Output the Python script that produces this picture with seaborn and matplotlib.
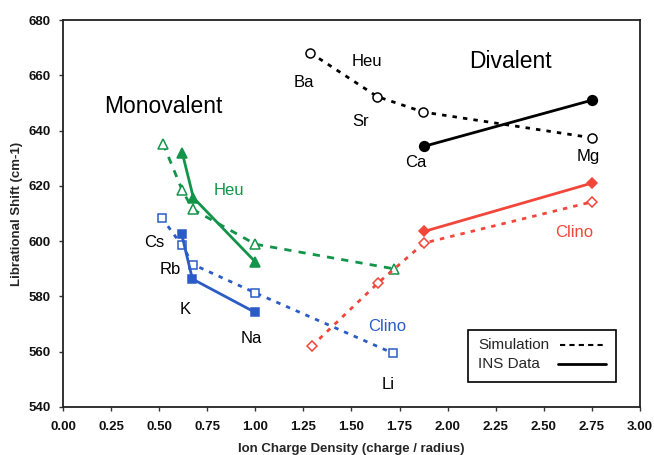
import numpy as np
import pandas as pd
import matplotlib
matplotlib.use("Agg")
import matplotlib.pyplot as plt
import seaborn as sns
from matplotlib.lines import Line2D
from matplotlib.patches import Rectangle

# Ion charge density (x) and librational shift (y)
heu_sim_x = [0.52, 0.62, 0.675, 1.00, 1.72]
heu_sim_y = [635.3, 618.4, 611.5, 598.9, 590.0]
heu_ins_x = [0.62, 0.678, 1.00]
heu_ins_y = [632.0, 615.7, 592.5]

clino_mono_sim_x = [0.513, 0.617, 0.678, 1.00, 1.718]
clino_mono_sim_y = [608.5, 598.6, 591.5, 581.3, 559.4]
clino_mono_ins_x = [0.617, 0.673, 1.00]
clino_mono_ins_y = [602.5, 586.3, 574.2]

clino_di_sim_x = [1.293, 1.64, 1.877, 2.75]
clino_di_sim_y = [562.0, 585.0, 599.3, 614.2]
clino_di_ins_x = [1.877, 2.75]
clino_di_ins_y = [603.5, 621.0]

heu_di_sim_x = [1.285, 1.634, 1.874, 2.75]
heu_di_sim_y = [668.2, 652.3, 646.7, 637.4]
heu_di_ins_x = [1.877, 2.75]
heu_di_ins_y = [634.3, 651.0]

# text labels: (text, x, y, color, size)
labels = [
    ("Monovalent", 0.52, 648.6, "black", 16.5),
    ("Divalent", 2.325, 664.9, "black", 16.5),
    ("Heu", 0.863, 618.5, "#13944a", 12),
    ("Heu", 1.579, 665.0, "black", 12),
    ("Ba", 1.25, 657.4, "black", 12),
    ("Sr", 1.548, 643.4, "black", 12),
    ("Ca", 1.832, 628.4, "black", 12),
    ("Mg", 2.73, 630.5, "black", 12),
    ("Cs", 0.473, 599.4, "black", 12),
    ("Rb", 0.56, 589.7, "black", 12),
    ("K", 0.634, 575.2, "black", 12),
    ("Na", 0.981, 564.9, "black", 12),
    ("Li", 1.692, 548.1, "black", 12),
    ("Clino", 1.686, 569.0, "#2b5cc6", 12),
    ("Clino", 2.657, 603.1, "#f2463a", 12),
]

green = "#13944a"
blue = "#2b5cc6"
red = "#f2463a"
black = "#000000"

sns.set_style("ticks")
plt.rcParams['font.family'] = ['Liberation Sans', 'DejaVu Sans']

fig, ax = plt.subplots(figsize=(6.54, 4.55), dpi=100)
fig.subplots_adjust(left=0.0963, right=0.9786, top=0.956, bottom=0.1055)

dotted = (0, (1.6, 2.2))
dashed = (0, (2.6, 2.6))


def draw(xs, ys, color, marker, ms, ls, filled):
    df = pd.DataFrame({"x": xs, "y": ys})
    sns.lineplot(data=df, x="x", y="y", ax=ax, color=color, linestyle=ls,
                 linewidth=2.0, marker=marker, markersize=ms,
                 markerfacecolor=color if filled else "white",
                 markeredgecolor=color, markeredgewidth=1.1,
                 sort=False, estimator=None)


# simulation (dashed / dotted) and INS data (solid)
draw(heu_sim_x, heu_sim_y, green, "^", 7.5, dashed, False)
draw(clino_mono_sim_x, clino_mono_sim_y, blue, "s", 5.5, dotted, False)
draw(clino_di_sim_x, clino_di_sim_y, red, "D", 5.5, dotted, False)
draw(heu_di_sim_x, heu_di_sim_y, black, "o", 6.5, dotted, False)

draw(heu_ins_x, heu_ins_y, green, "^", 7.5, "-", True)
draw(clino_mono_ins_x, clino_mono_ins_y, blue, "s", 5.5, "-", True)
draw(clino_di_ins_x, clino_di_ins_y, red, "D", 5.5, "-", True)
draw(heu_di_ins_x, heu_di_ins_y, black, "o", 7, "-", True)

ax.set_xlim(0, 3)
ax.set_ylim(540, 680)
ax.set_xticks(np.arange(0, 3.01, 0.25))
ax.set_xticklabels([f"{v:.2f}" for v in np.arange(0, 3.01, 0.25)])
ax.set_yticks(np.arange(540, 681, 20))
for lab in ax.get_xticklabels() + ax.get_yticklabels():
    lab.set_fontweight("bold")
    lab.set_fontsize(9.5)
    lab.set_color("#111111")
ax.tick_params(length=3, width=1, color="#333333")
ax.tick_params(axis="x", pad=7)
ax.tick_params(axis="y", pad=6)
for s in ax.spines.values():
    s.set_visible(True)
    s.set_linewidth(1.3)
    s.set_color("#222222")

ax.set_xlabel("Ion Charge Density (charge / radius)", fontsize=9.5,
              fontweight="bold", labelpad=7)
ax.set_ylabel("Librational Shift (cm-1)", fontsize=9.5, fontweight="bold",
              labelpad=4)

for txt, x, y, c, fs in labels:
    ax.text(x, y, txt, fontsize=fs, color=c, ha="center", va="center")

# legend box, drawn by hand so the labels sit left-aligned
ax.add_patch(Rectangle((0.702, 0.0646), 0.256, 0.1344, transform=ax.transAxes,
                       facecolor="white", edgecolor="black", linewidth=1.2,
                       zorder=5))
ax.text(0.719, 0.160, "Simulation", transform=ax.transAxes, fontsize=11,
        va="center", ha="left", zorder=6)
ax.text(0.719, 0.111, "INS Data", transform=ax.transAxes, fontsize=11,
        va="center", ha="left", zorder=6)
ax.add_line(Line2D([0.861, 0.941], [0.160, 0.160], transform=ax.transAxes,
                   color="black", lw=1.5, linestyle=(0, (2.5, 2)), zorder=6))
ax.add_line(Line2D([0.858, 0.941], [0.111, 0.111], transform=ax.transAxes,
                   color="black", lw=2, zorder=6))

plt.savefig("out.png", dpi=100)
